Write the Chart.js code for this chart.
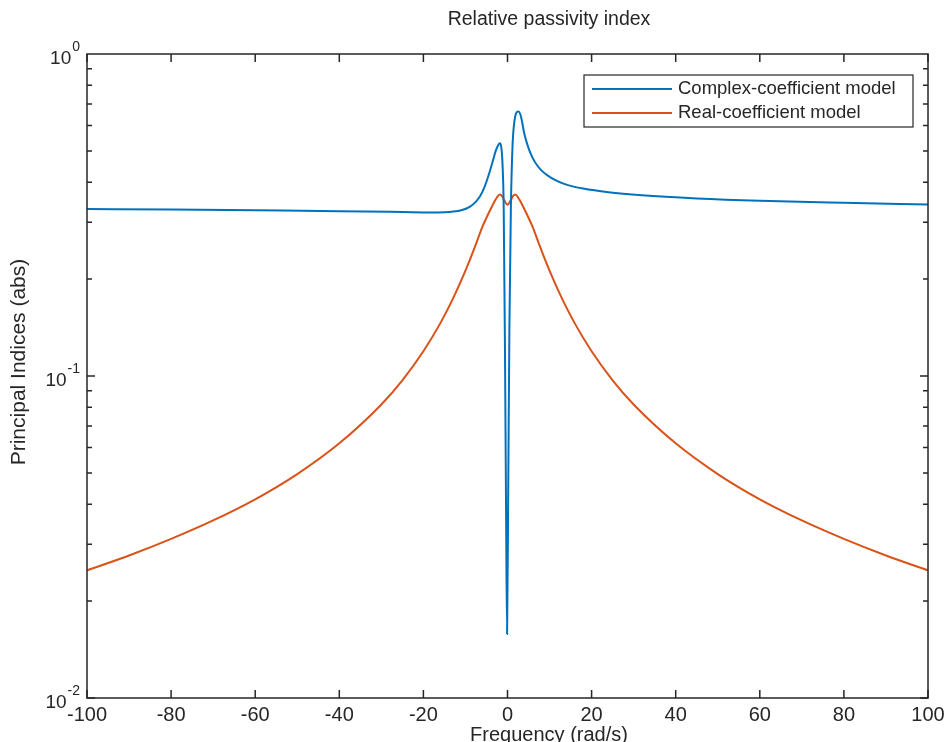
<!DOCTYPE html>
<html>
<head>
<meta charset="utf-8">
<script src="https://cdn.jsdelivr.net/npm/chart.js@4.4.1/dist/chart.umd.min.js"></script>
<style>
  html, body { margin: 0; padding: 0; background: #fff; }
  #wrap { width: 948px; height: 742px; position: relative; }
</style>
</head>
<body>
<div id="wrap"><canvas id="passivity"></canvas></div>
<script>
// values
const complexFreq = [-100, -80, -60, -40, -25, -18, -14, -11, -9, -7.5, -6.5, -5.5, -4.5, -3.5, -2.8, -2.2, -1.8, -1.5, -1.2, -0.9, -0.6, -0.35, -0.1,
    0.15, 0.45, 0.8, 1.2, 1.7, 2.2, 2.6, 3.2, 4, 5, 6, 7, 8, 9.5, 11.5, 14, 18, 24, 32, 45, 60, 80, 100];
const complexIdx = [0.330, 0.329, 0.327, 0.325, 0.323, 0.322, 0.323, 0.327, 0.335, 0.348, 0.362, 0.385, 0.42, 0.465, 0.50, 0.522, 0.528, 0.515, 0.46, 0.33, 0.12, 0.04, 0.0158,
    0.04, 0.14, 0.33, 0.52, 0.625, 0.66, 0.663, 0.64, 0.565, 0.51, 0.475, 0.452, 0.436, 0.42, 0.405, 0.393, 0.382, 0.372, 0.364, 0.356, 0.35, 0.345, 0.341];

const realFreq = [-100, -90, -80, -70, -60, -50, -40, -30, -25, -20, -16, -13, -11, -9, -7.5, -6, -5, -4, -3, -2.3, -1.8, -1.3, -0.7, 0,
    0.7, 1.3, 1.8, 2.3, 3, 4, 5, 6, 7.5, 9, 11, 13, 16, 20, 25, 30, 40, 50, 60, 70, 80, 90, 100];
const realIdx = [0.0249, 0.0277, 0.0312, 0.0356, 0.0414, 0.0496, 0.0618, 0.0816, 0.097, 0.1194, 0.1457, 0.1736, 0.198, 0.2287, 0.257, 0.29, 0.31, 0.33, 0.35, 0.362, 0.366, 0.362, 0.35, 0.340,
    0.35, 0.362, 0.366, 0.362, 0.35, 0.33, 0.31, 0.29, 0.257, 0.2287, 0.198, 0.1736, 0.1457, 0.1194, 0.097, 0.0816, 0.0618, 0.0496, 0.0414, 0.0356, 0.0312, 0.0277, 0.0249];

const seriesNames = ['Complex-coefficient model', 'Real-coefficient model'];
const xTicks = [-100, -80, -60, -40, -20, 0, 20, 40, 60, 80, 100];
const yTicks = [0.01, 0.1, 1];
const yExponents = ['-2', '-1', '0'];

const blue = '#0072BD';
const orange = '#D95319';
const axisColor = '#262626';
const font = '"Liberation Sans", Arial, sans-serif';

const toPoints = (xs, ys) => xs.map((x, i) => ({ x: x, y: ys[i] }));

// MATLAB style box, inward ticks, labels and legend
const matlabAxes = {
    id: 'matlabAxes',
    afterDraw(chart) {
        const ctx = chart.ctx;
        const a = chart.chartArea;
        const xs = chart.scales.x;
        const ys = chart.scales.y;
        ctx.save();
        ctx.strokeStyle = axisColor;
        ctx.lineWidth = 1.5;
        ctx.strokeRect(a.left, a.top, a.right - a.left, a.bottom - a.top);

        ctx.beginPath();
        xTicks.forEach(t => {
            const px = xs.getPixelForValue(t);
            ctx.moveTo(px, a.bottom); ctx.lineTo(px, a.bottom - 8);
            ctx.moveTo(px, a.top); ctx.lineTo(px, a.top + 8);
        });
        for (let e = -2; e < 0; e++) {
            for (let m = 1; m < 10; m++) {
                const v = m * Math.pow(10, e);
                const py = ys.getPixelForValue(v);
                const len = m === 1 ? 8 : 5;
                ctx.moveTo(a.left, py); ctx.lineTo(a.left + len, py);
                ctx.moveTo(a.right, py); ctx.lineTo(a.right - len, py);
            }
        }
        ctx.stroke();

        ctx.fillStyle = axisColor;
        ctx.font = '20px ' + font;
        ctx.textAlign = 'center';
        ctx.textBaseline = 'middle';
        xTicks.forEach(t => {
            ctx.fillText(String(t), xs.getPixelForValue(t), a.bottom + 17);
        });

        yTicks.forEach((t, i) => {
            const py = ys.getPixelForValue(t);
            ctx.font = '14px ' + font;
            ctx.textAlign = 'right';
            ctx.fillText(yExponents[i], 80, py - 7);
            const supW = ctx.measureText(yExponents[i]).width;
            ctx.font = '19px ' + font;
            ctx.fillText('10', 80 - supW - 1, py + 5);
        });

        ctx.textAlign = 'center';
        ctx.font = '19.5px ' + font;
        ctx.fillText('Relative passivity index', 549, 20);
        ctx.font = '20px ' + font;
        ctx.fillText('Frequency (rad/s)', 549, 735);
        ctx.save();
        ctx.translate(19, 362);
        ctx.rotate(-Math.PI / 2);
        ctx.font = '21px ' + font;
        ctx.fillText('Principal Indices (abs)', 0, 0);
        ctx.restore();

        // legend
        ctx.fillStyle = '#fff';
        ctx.fillRect(584, 75, 329, 52);
        ctx.strokeStyle = axisColor;
        ctx.lineWidth = 1.2;
        ctx.strokeRect(584, 75, 329, 52);
        ctx.font = '18.5px ' + font;
        ctx.textAlign = 'left';
        chart.data.datasets.forEach((ds, i) => {
            const ly = 89 + i * 24;
            ctx.strokeStyle = ds.borderColor;
            ctx.lineWidth = 2;
            ctx.beginPath();
            ctx.moveTo(592, ly); ctx.lineTo(672, ly);
            ctx.stroke();
            ctx.fillStyle = axisColor;
            ctx.fillText(ds.label, 678, ly);
        });
        ctx.restore();
    }
};

new Chart(document.getElementById('passivity'), {
    type: 'line',
    data: {
        datasets: [
            {
                label: seriesNames[0],
                data: toPoints(complexFreq, complexIdx),
                borderColor: blue,
                borderWidth: 2,
                pointRadius: 0,
                cubicInterpolationMode: 'monotone',
            },
            {
                label: seriesNames[1],
                data: toPoints(realFreq, realIdx),
                borderColor: orange,
                borderWidth: 2,
                pointRadius: 0,
                cubicInterpolationMode: 'monotone',
            }
        ]
    },
    options: {
        responsive: true,
        maintainAspectRatio: false,
        animation: false,
        layout: {
            padding: { left: 87, right: 20, top: 54, bottom: 44 }
        },
        scales: {
            x: { type: 'linear', min: -100, max: 100, display: false },
            y: { type: 'logarithmic', min: 0.01, max: 1, display: false }
        },
        plugins: {
            legend: { display: false },
            tooltip: { enabled: false }
        }
    },
    plugins: [matlabAxes]
});
</script>
</body>
</html>
